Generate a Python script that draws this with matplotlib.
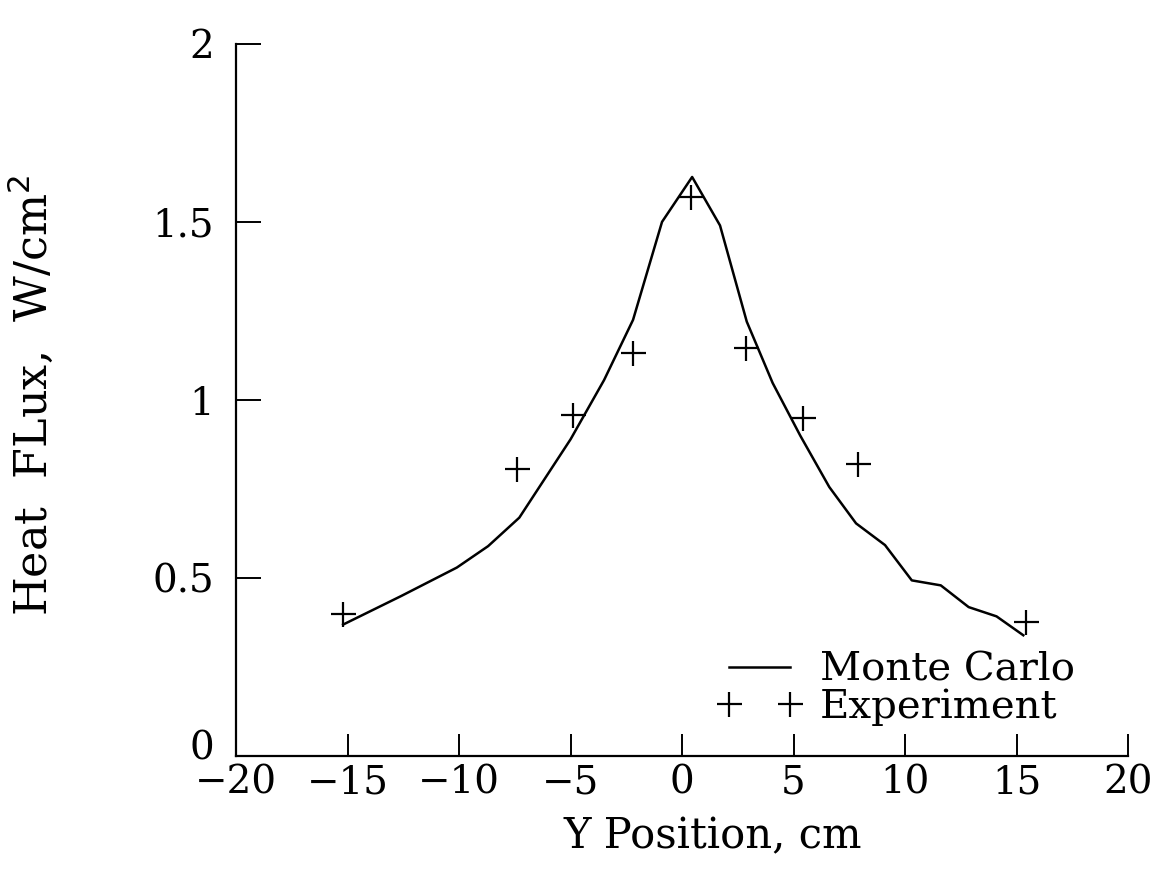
import numpy as np
import matplotlib
matplotlib.use("Agg")
import matplotlib.pyplot as plt
import matplotlib.transforms as mtransforms

# Monte Carlo curve (vertices)
mc_x = [-15.2, -12.6, -10.1, -8.7, -7.3, -5.0, -3.5, -2.2, -0.9, 0.45,
        1.7, 2.9, 4.06, 5.3, 6.6, 7.8, 9.1, 10.3, 11.6, 12.85, 14.1, 15.3]
mc_y = [0.37, 0.45, 0.53, 0.59, 0.67, 0.89, 1.056, 1.225, 1.50, 1.626,
        1.49, 1.22, 1.048, 0.90, 0.756, 0.654, 0.593, 0.494, 0.48, 0.419, 0.393, 0.34]

# experiment points
exp_x = [-15.2, -7.4, -4.9, -2.2, 0.4, 2.85, 5.4, 7.9, 15.4]
exp_y = [0.40, 0.806, 0.958, 1.132, 1.57, 1.146, 0.949, 0.82, 0.376]

xticks = [-20, -15, -10, -5, 0, 5, 10, 15, 20]
yticks = [0, 0.5, 1, 1.5, 2]
ytick_labels = ["0", "0.5", "1", "1.5", "2"]

plt.rcParams['font.family'] = ['DejaVu Serif']

fig = plt.figure(figsize=(11.63, 8.92), dpi=100)
ax = fig.add_axes([0.203, 0.152, 0.767, 0.799])

ax.plot(mc_x, mc_y, color="black", lw=1.8, label="Monte Carlo")
ax.plot(exp_x, exp_y, ls="none", marker="+", ms=18, mew=1.6, color="black",
        label="Experiment")

ax.set_xlim(-20, 20)
ax.set_ylim(0, 2)
ax.set_xticks(xticks)
ax.set_yticks(yticks)
ax.set_yticklabels(ytick_labels)

for s in ["top", "right"]:
    ax.spines[s].set_visible(False)
for s in ["left", "bottom"]:
    ax.spines[s].set_linewidth(1.6)

ax.tick_params(axis="x", direction="in", length=16, width=1.4, labelsize=28, pad=6)
ax.tick_params(axis="y", direction="in", length=18, width=1.4, labelsize=28, pad=16)

# the "0" label sits a little above its tick in the original
lab0 = ax.yaxis.get_major_ticks()[0].label1
lab0.set_transform(lab0.get_transform() +
                   mtransforms.ScaledTranslation(0, 11 / 100, fig.dpi_scale_trans))

ax.set_xlabel("Y Position, cm", fontsize=30)
ax.xaxis.set_label_coords(0.534, -0.083)
ax.set_ylabel("Heat  FLux,  W/cm$^2$", fontsize=32)
ax.yaxis.set_label_coords(-0.202, 0.506)

ax.legend(frameon=False, loc="lower left", bbox_to_anchor=(0.517, 0.014),
          fontsize=29, numpoints=2, handlelength=2.1, handletextpad=0.45,
          labelspacing=0.0, borderpad=0.0)

fig.savefig("out.png", dpi=100)
